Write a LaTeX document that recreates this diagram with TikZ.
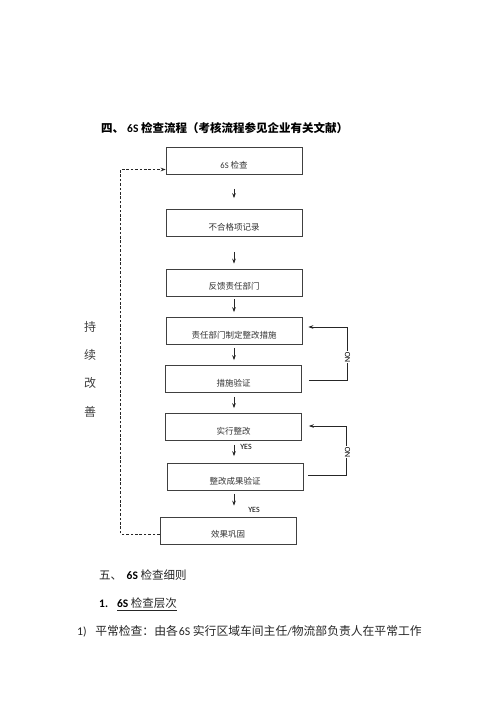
\documentclass[tikz,border=0pt]{standalone}
\usepackage{fontspec}
\setmainfont{Carlito}
\newfontfamily\cjk{Noto Sans CJK SC}
\usetikzlibrary{arrows.meta,calc}
\begin{document}
\begin{tikzpicture}[x=1pt,y=-1pt,
  box/.style={draw=black!75, line width=0.7pt, minimum width=136pt, minimum height=27pt,
    inner sep=0pt, text height=16pt, text depth=2pt,
    font=\cjk\fontsize{8.5}{10}\selectfont, text=black!80},
  arr/.style={-{Stealth[length=5pt,width=3.6pt]}, line width=0.7pt, draw=black!85},
  dashline/.style={dash pattern=on 2.6pt off 1.8pt, line width=0.8pt},
  side/.style={font=\cjk\fontsize{12}{14}\selectfont, text=black!75, inner sep=0pt},
  head/.style={anchor=west, inner sep=0pt, font=\cjk\bfseries\fontsize{11.5}{13}\selectfont},
  subhead/.style={anchor=west, inner sep=0pt, font=\cjk\fontsize{11.5}{13}\selectfont, text=black!85},
  body/.style={anchor=west, inner sep=0pt, font=\cjk\fontsize{11.8}{13}\selectfont, text=black!85},
  small/.style={font=\rmfamily\fontsize{8}{9}\selectfont, inner sep=0pt},
]
\useasboundingbox (0,0) rectangle (500,707);
\fill[white] (0,0) rectangle (500,707);

% header
\node[head] (t1) at (101,128) {四、\hspace{3pt}{\rmfamily\bfseries 6S} 检查流程（考核流程参见企业有关文献）};

% boxes
\node[box] (b1) at (234,161) {{\rmfamily 6S} 检查};
\node[box] (b2) at (234,223) {不合格项记录};
\node[box] (b3) at (234,282.5) {反馈责任部门};
\node[box] (b4) at (234,331) {责任部门制定整改措施};
\node[box] (b5) at (233.5,379) {措施验证};
\node[box] (b6) at (233.5,427) {实行整改};
\node[box] (b7) at (235,477) {整改成果验证};
\node[box] (b8) at (228,530.5) {效果巩固};

% main arrows
\draw[arr] ($(b1.south)+(0,14)$) -- ($(b2.north)+(0,-11)$);
\draw[arr] ($(b2.south)+(0,15)$) -- ($(b3.north)+(0,-5)$);
\draw[arr] ($(b3.south)+(0,3)$) -- ($(b4.north)+(0,-5)$);
\draw[arr] ($(b4.south)+(0,3)$) -- ($(b5.north)+(0.5,-5)$);
\draw[arr] ($(b5.south)+(0.5,4)$) -- ($(b6.north)+(0.5,-5)$);
\draw[arr] ($(b6.south)+(0.5,4)$) -- ($(b7.north)+(-1,-7)$);
\draw[arr] ($(b7.south)+(-1,3)$) -- ($(b8.north)+(6,-11)$);

\node[small] (y1) at (246,447) {YES};
\node[small] (y2) at (254,510) {YES};

% NO loops
\draw[arr] ($(b5.east)+(7,1)$) -- ++(38,0) |- ($(b4.east)+(6,-4)$);
\node[small, rotate=90, fill=white, inner sep=0.3pt] (n1) at (347.5,357) {NO};
\draw[arr] ($(b7.east)+(5,-2)$) -- ++(38,0) |- ($(b6.east)+(7,-1)$);
\node[small, rotate=90, fill=white, inner sep=0.3pt] (n2) at (347.5,452) {NO};

% dashed feedback loop
\draw[arr, dashline] ($(b8.west)+(0,3.5)$) -- ++(-39,0) |- ($(b1.west)+(0,8.5)$);

% side text
\node[side] (s1) at (90,327) {持};
\node[side] (s2) at (90,355) {续};
\node[side] (s3) at (90,383) {改};
\node[side] (s4) at (90,412) {善};

% lower text
\node[subhead] (t2) at (99,575) {五、\hspace{4.5pt}{\rmfamily\bfseries\color{black} 6S} 检查细则};
\node[subhead] (t3) at (99,604) {{\rmfamily\bfseries\color{black} 1.}\hspace{9pt}\underline{{\rmfamily\bfseries\color{black} 6S} 检查层次}};
\node[body] (t4) at (77,631) {{\rmfamily 1)}\hspace{8.5pt}平常检查：由各{\rmfamily\hspace{1pt}6S} 实行区域车间主任{\rmfamily /}物流部负责人在平常工作};
\end{tikzpicture}
\end{document}
